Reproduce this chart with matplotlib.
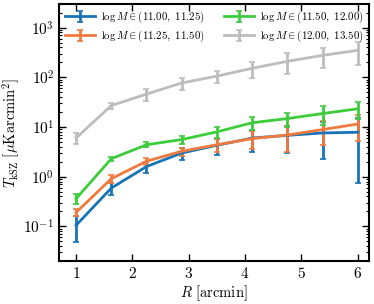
import numpy as np
import matplotlib
matplotlib.use('Agg')
import matplotlib.pyplot as plt

# Plot style (LaTeX-like look)
plt.rcParams['mathtext.fontset'] = 'cm'
plt.rcParams['font.family'] = 'serif'
plt.rcParams['font.serif'] = ['cmr10', 'DejaVu Serif']
plt.rcParams['axes.formatter.use_mathtext'] = True

# Data
R = [1.0, 1.625, 2.25, 2.875, 3.5, 4.125, 4.75, 5.375, 6.0]

labels = [r'$\log M \in (11.00,\ 11.25)$',
          r'$\log M \in (11.25,\ 11.50)$',
          r'$\log M \in (11.50,\ 12.00)$',
          r'$\log M \in (12.00,\ 13.50)$']
colors = ['#1874b8', '#f07a3e', '#3ccc3c', '#bdbdbd']

t_blue = [0.105, 0.59, 1.6, 3.0, 4.3, 6.0, 6.8, 7.6, 7.85]
e_blue = [0.057, 0.16, 0.4, 0.8, 1.5, 2.8, 3.8, 5.3, 7.1]

t_orange = [0.19, 0.91, 2.05, 3.25, 4.4, 5.85, 6.9, 8.9, 11.5]
e_orange = [0.03, 0.15, 0.3, 0.6, 1.3, 2.3, 3.8, 4.5, 6.3]

t_green = [0.36, 2.3, 4.4, 5.6, 8.0, 12.2, 14.8, 18.7, 23.3]
e_green = [0.08, 0.2, 0.5, 1.0, 2.1, 3.4, 4.6, 7.5, 8.5]

t_gray = [6.0, 27.0, 46.0, 77.0, 106.0, 152.0, 210.0, 277.0, 350.0]
e_gray = [1.5, 4.0, 12.0, 22.0, 30.0, 55.0, 95.0, 120.0, 170.0]

series = [(t_blue, e_blue), (t_orange, e_orange), (t_green, e_green), (t_gray, e_gray)]

fig = plt.figure(figsize=(3.74, 3.04), dpi=100)
ax = fig.add_axes([0.158, 0.141, 0.829, 0.846])

for (t, e), c, lab in zip(series, colors, labels):
    ax.errorbar(R, t, yerr=e, color=c, lw=2, elinewidth=2, capsize=2,
                capthick=1.2, label=lab)

ax.set_yscale('log')
ax.set_xlim(0.7, 6.2)
ax.set_ylim(0.02, 3000)
ax.set_xticks([1, 2, 3, 4, 5, 6])
ax.set_xticklabels([r'$1$', r'$2$', r'$3$', r'$4$', r'$5$', r'$6$'])

ax.set_xlabel(r'$R\ [{\rm arcmin}]$', fontsize=10.5, labelpad=2)
ax.set_ylabel(r'$T_{\rm kSZ}\ [\mu{\rm Karcmin}^2]$', fontsize=10.5, labelpad=1)

ax.tick_params(which='both', direction='in', top=True, right=True, labelsize=11)
ax.tick_params(which='major', length=5, width=1)
ax.tick_params(which='minor', length=2.5, width=0.8)
ax.minorticks_on()
ax.tick_params(axis='x', which='minor', bottom=False, top=False)
for s in ax.spines.values():
    s.set_linewidth(1.5)

ax.legend(loc='upper left', ncol=2, frameon=False, fontsize=7.8,
          handlelength=2.8, columnspacing=1.8, borderaxespad=0.15,
          handletextpad=0.5, labelspacing=0.35)

fig.savefig('out.png', dpi=100)
